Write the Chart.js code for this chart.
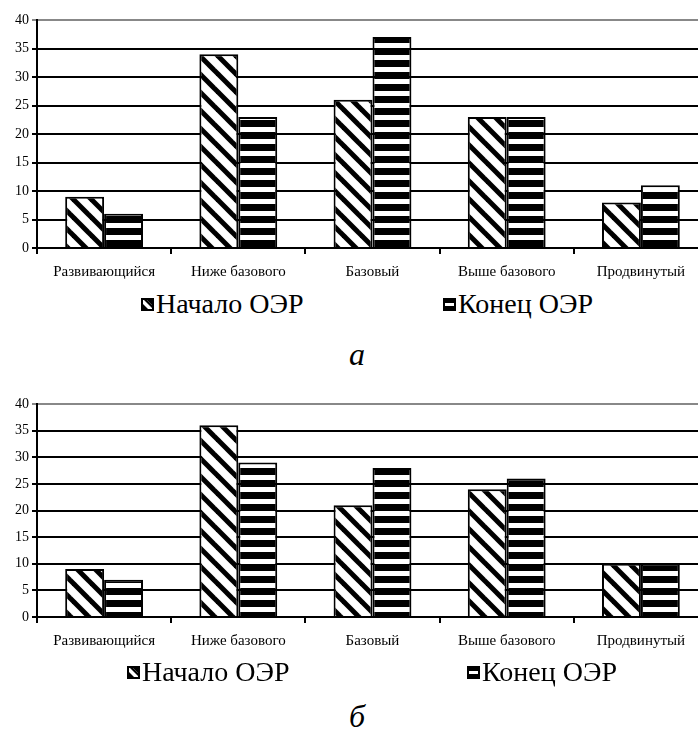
<!DOCTYPE html>
<html><head><meta charset="utf-8">
<script src="https://cdn.jsdelivr.net/npm/chart.js@4.4.0/dist/chart.umd.min.js"></script>
<style>
html,body{margin:0;padding:0;background:#fff;overflow:hidden;width:698px;height:731px;}
#wrap{position:relative;width:698px;height:731px;overflow:hidden;font-family:'Liberation Serif';color:#000;}
.cv{position:absolute;left:0;}
.leg{position:absolute;display:flex;align-items:center;font-family:'Liberation Serif';font-size:28px;line-height:28px;white-space:nowrap;}
.leg canvas{margin-right:2px;}
.cap{position:absolute;font-family:'Liberation Serif';font-style:italic;font-size:32px;line-height:32px;transform:translate(-50%,-50%);}
</style></head><body>
<div id="wrap">
  <div class="cv" style="top:0;"><canvas id="cA" width="708" height="288"></canvas></div>
  <div class="cv" style="top:384px;"><canvas id="cB" width="708" height="273"></canvas></div>
  <div class="leg" style="left:141px;top:290px;"><canvas class="sw1" width="13" height="13"></canvas><span>Начало ОЭР</span></div>
  <div class="leg" style="left:443px;top:290px;"><canvas class="sw2" width="13" height="13"></canvas><span>Конец ОЭР</span></div>
  <div class="cap" style="left:357px;top:354px;">а</div>
  <div class="leg" style="left:127px;top:658px;"><canvas class="sw1" width="13" height="13"></canvas><span>Начало ОЭР</span></div>
  <div class="leg" style="left:467px;top:658px;"><canvas class="sw2" width="13" height="13"></canvas><span>Конец ОЭР</span></div>
  <div class="cap" style="left:357px;top:716px;">б</div>
</div>
<script>
// ---- data ----
const categories = ['Развивающийся', 'Ниже базового', 'Базовый', 'Выше базового', 'Продвинутый'];
const seriesNames = ['Начало ОЭР', 'Конец ОЭР'];
const startA = [9, 34, 26, 23, 8];
const endA   = [6, 23, 37, 23, 11];
const startB = [9, 36, 21, 24, 10];
const endB   = [7, 29, 28, 26, 10];
const yMin = 0, yMax = 40, yStep = 5;

// ---- patterns ----
function diagPattern() {
  const T = 18, c = document.createElement('canvas');
  c.width = T; c.height = T;
  const g = c.getContext('2d');
  g.fillStyle = '#fff'; g.fillRect(0, 0, T, T);
  g.strokeStyle = '#000'; g.lineWidth = 5;
  for (let k = -1; k <= 1; k++) {
    g.beginPath(); g.moveTo(k * T - 3, -3); g.lineTo(k * T + T + 3, T + 3); g.stroke();
  }
  return g.createPattern(c, 'repeat');
}
function horizPattern() {
  const T = 12, c = document.createElement('canvas');
  c.width = 4; c.height = T;
  const g = c.getContext('2d');
  g.fillStyle = '#fff'; g.fillRect(0, 0, 4, T);
  g.fillStyle = '#000'; g.fillRect(0, 0, 4, 7);
  return g.createPattern(c, 'repeat');
}
const PAT1 = diagPattern(), PAT2 = horizPattern();

// legend swatches
document.querySelectorAll('.sw1').forEach(cv => {
  const g = cv.getContext('2d');
  g.fillStyle = '#000'; g.fillRect(0, 0, 13, 13);
  g.fillStyle = '#fff';
  g.beginPath(); g.moveTo(2, 6); g.lineTo(2, 2); g.lineTo(6, 2); g.lineTo(11, 7); g.lineTo(11, 11); g.lineTo(7, 11); g.closePath(); g.fill();
  g.fillStyle = '#000';
  g.beginPath(); g.moveTo(3, 2); g.lineTo(6, 2); g.lineTo(11, 7); g.lineTo(11, 10); g.closePath(); g.fill();
});
document.querySelectorAll('.sw2').forEach(cv => {
  const g = cv.getContext('2d');
  g.fillStyle = '#000'; g.fillRect(0, 0, 13, 13);
  g.fillStyle = '#fff'; g.fillRect(2, 5, 9, 3);
});

const FONT = 'Liberation Serif';
Chart.defaults.color = '#000';
Chart.defaults.font.family = FONT;

function makeChart(id, s1, s2) {
  return new Chart(document.getElementById(id), {
    type: 'bar',
    data: {
      labels: categories,
      datasets: [
        { label: seriesNames[0], data: s1, backgroundColor: PAT1, borderColor: '#000', borderWidth: 2 },
        { label: seriesNames[1], data: s2, backgroundColor: PAT2, borderColor: '#000', borderWidth: 2 }
      ]
    },
    options: {
      responsive: false,
      animation: false,
      categoryPercentage: 0.58,
      barPercentage: 1,
      layout: { padding: { top: 20, right: 0, left: 0, bottom: 0 } },
      plugins: { legend: { display: false }, tooltip: { enabled: false } },
      scales: {
        x: {
          grid: { drawOnChartArea: false, drawTicks: true, tickLength: 6, color: '#000', lineWidth: 2 },
          border: { display: true, color: '#000', width: 2 },
          ticks: { font: { size: 15, family: FONT }, padding: 9, maxRotation: 0, autoSkip: false },
          afterFit: s => { s.height = 40; }
        },
        y: {
          min: yMin, max: yMax,
          grid: {
            color: c => (c.tick && c.tick.value === yMax) ? '#888' : '#000',
            lineWidth: 2, tickLength: 5
          },
          border: { display: true, color: '#000', width: 2 },
          ticks: { stepSize: yStep, font: { size: 14, family: FONT }, padding: 3 },
          afterFit: s => { s.width = 37; }
        }
      }
    }
  });
}
makeChart('cA', startA, endA);
makeChart('cB', startB, endB);
</script>
</body></html>
